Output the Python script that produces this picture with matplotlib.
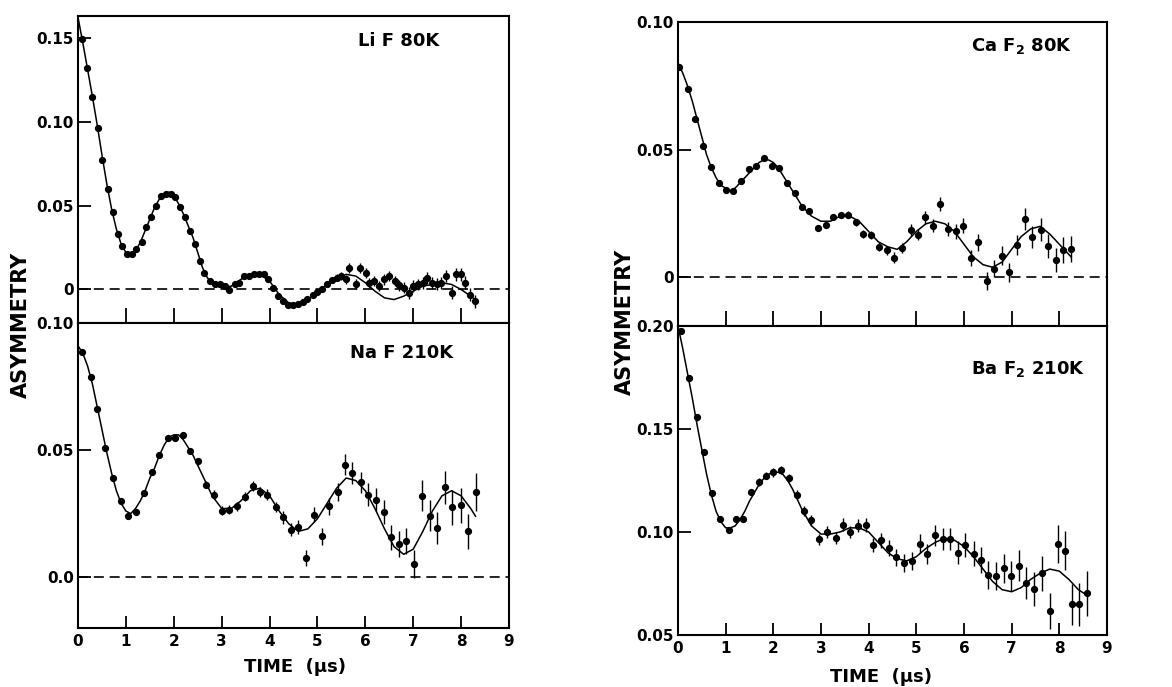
import matplotlib
matplotlib.use("Agg")
import matplotlib.pyplot as plt

# ---- data (time in microseconds, asymmetry) ----
lif_t = [0.08, 0.19, 0.30, 0.42, 0.51, 0.62, 0.72, 0.83, 0.92, 1.03, 1.12, 1.22, 1.33, 1.42,
         1.52, 1.62, 1.73, 1.83, 1.94, 2.03, 2.13, 2.24, 2.34, 2.45, 2.55, 2.64, 2.75, 2.85,
         2.96, 3.06, 3.16, 3.27, 3.36, 3.46, 3.57, 3.67, 3.78, 3.88, 3.97, 4.08, 4.18, 4.29,
         4.39, 4.49, 4.59, 4.70, 4.79, 4.90, 5.00, 5.09, 5.20, 5.30, 5.40, 5.50, 5.59, 5.66,
         5.80, 5.89, 6.01, 6.08, 6.19, 6.29, 6.39, 6.49, 6.61, 6.71, 6.80, 6.91, 7.00, 7.10,
         7.20, 7.29, 7.39, 7.50, 7.59, 7.69, 7.80, 7.90, 7.99, 8.09, 8.18, 8.29]
lif_a = [0.149, 0.132, 0.115, 0.096, 0.077, 0.060, 0.046, 0.033, 0.026, 0.021, 0.021, 0.024,
         0.028, 0.037, 0.043, 0.050, 0.056, 0.057, 0.057, 0.055, 0.049, 0.043, 0.035, 0.027,
         0.017, 0.010, 0.005, 0.003, 0.003, 0.002, -0.0004, 0.003, 0.004, 0.008, 0.008, 0.009,
         0.0095, 0.009, 0.006, 0.001, -0.004, -0.007, -0.009, -0.0095, -0.0085, -0.0075,
         -0.0055, -0.0035, -0.0016, 0.0004, 0.003, 0.0055, 0.007, 0.008, 0.006, 0.013, 0.003,
         0.013, 0.010, 0.004, 0.005, 0.002, 0.006, 0.008, 0.005, 0.0024, 0.001, -0.002, 0.002,
         0.003, 0.004, 0.007, 0.004, 0.003, 0.004, 0.008, -0.002, 0.009, 0.009, 0.004, -0.003,
         -0.007]
lif_e = [0.0008, 0.0008, 0.0008, 0.0008, 0.0008, 0.0008, 0.0008, 0.0008, 0.0008, 0.0008,
         0.0008, 0.0008, 0.0008, 0.0008, 0.0008, 0.0008, 0.0008, 0.0008, 0.0008, 0.0008,
         0.0008, 0.0008, 0.0008, 0.0008, 0.0008, 0.0008, 0.0008, 0.0008, 0.0008, 0.0008,
         0.001, 0.001, 0.001, 0.001, 0.001, 0.001, 0.001, 0.001, 0.001, 0.001,
         0.0012, 0.0012, 0.0012, 0.0012, 0.0012, 0.0014, 0.0014, 0.0014, 0.0015, 0.0015,
         0.0016, 0.0018, 0.002, 0.0022, 0.0025, 0.003, 0.003, 0.003, 0.003, 0.003,
         0.003, 0.003, 0.0032, 0.0032, 0.0032, 0.0033, 0.0033, 0.0034, 0.0034, 0.0035,
         0.0035, 0.0035, 0.0036, 0.0036, 0.0037, 0.0037, 0.0038, 0.0038, 0.004, 0.004,
         0.004, 0.004]
lif_fit_t = [0.0, 0.1, 0.2, 0.3, 0.4, 0.5, 0.6, 0.7, 0.8, 0.9, 1.0, 1.1, 1.2, 1.3, 1.4, 1.5,
             1.6, 1.7, 1.8, 1.9, 2.0, 2.1, 2.2, 2.3, 2.4, 2.5, 2.6, 2.7, 2.8, 2.9, 3.0,
             3.2, 3.4, 3.6, 3.8, 4.0, 4.2, 4.4, 4.6, 4.8, 5.0, 5.2, 5.4, 5.6, 5.8, 6.0, 6.2,
             6.4, 6.6, 6.8, 7.0, 7.2, 7.4, 7.6, 7.8, 8.0, 8.2, 8.3]
lif_fit = [0.162, 0.147, 0.131, 0.115, 0.098, 0.080, 0.063, 0.048, 0.036, 0.027, 0.022, 0.021,
           0.023, 0.028, 0.035, 0.042, 0.049, 0.054, 0.057, 0.058, 0.056, 0.051, 0.045, 0.038,
           0.031, 0.022, 0.013, 0.007, 0.004, 0.002, 0.001,
           0.002, 0.006, 0.009, 0.009, 0.005, -0.003, -0.008,
           -0.009, -0.006, -0.002, 0.003, 0.007, 0.009, 0.008, 0.004, -0.001, -0.005, -0.006,
           -0.004, -0.001, 0.002, 0.003, 0.004, 0.003, 0.000, -0.004, -0.006]

naf_t = [0.08, 0.26, 0.40, 0.57, 0.73, 0.90, 1.05, 1.20, 1.38, 1.54, 1.70, 1.87, 2.03, 2.19,
         2.34, 2.50, 2.67, 2.83, 3.01, 3.16, 3.31, 3.48, 3.65, 3.81, 3.95, 4.13, 4.29, 4.45,
         4.60, 4.77, 4.93, 5.09, 5.24, 5.42, 5.57, 5.73, 5.90, 6.06, 6.22, 6.38, 6.54, 6.70,
         6.85, 7.01, 7.19, 7.34, 7.50, 7.66, 7.82, 7.99, 8.15, 8.31]
naf_a = [0.0885, 0.0786, 0.066, 0.051, 0.039, 0.030, 0.024, 0.0256, 0.033, 0.0415, 0.048,
         0.0547, 0.0547, 0.056, 0.0498, 0.0455, 0.0364, 0.0325, 0.0262, 0.0265, 0.0278, 0.0317,
         0.036, 0.0334, 0.0325, 0.0275, 0.0236, 0.0187, 0.0197, 0.0075, 0.0246, 0.016, 0.0278,
         0.0334, 0.0443, 0.041, 0.0373, 0.0324, 0.0304, 0.0256, 0.0157, 0.0131, 0.0142, 0.0052,
         0.0321, 0.0242, 0.0194, 0.0354, 0.0275, 0.0282, 0.018, 0.0334]
naf_e = [0.001, 0.001, 0.001, 0.001, 0.001, 0.001, 0.001, 0.001, 0.001, 0.001,
         0.0012, 0.0012, 0.0012, 0.0012, 0.0012, 0.0014, 0.0015, 0.0016, 0.0017, 0.0018,
         0.0018, 0.0018, 0.002, 0.002, 0.002, 0.002, 0.0025, 0.0025, 0.0028, 0.003,
         0.003, 0.0032, 0.0035, 0.0035, 0.004, 0.0042, 0.0042, 0.0045, 0.0045, 0.0048,
         0.005, 0.005, 0.0052, 0.0055, 0.006, 0.006, 0.0062, 0.0065, 0.0068, 0.007,
         0.007, 0.0075]
naf_fit_t = [0.0, 0.1, 0.2, 0.3, 0.4, 0.5, 0.6, 0.7, 0.8, 0.9, 1.0, 1.1, 1.2, 1.3, 1.4, 1.5,
             1.6, 1.7, 1.8, 1.9, 2.0, 2.1, 2.2, 2.3, 2.4, 2.6, 2.8, 3.0,
             3.2, 3.4, 3.6, 3.8, 4.0, 4.2, 4.4, 4.6, 4.8, 5.0, 5.2, 5.4, 5.6, 5.8, 6.0, 6.2,
             6.4, 6.6, 6.8, 7.0, 7.2, 7.4, 7.6, 7.8, 8.0, 8.2, 8.3]
naf_fit = [0.091, 0.088, 0.083, 0.076, 0.067, 0.058, 0.049, 0.041, 0.034, 0.029, 0.026, 0.025,
           0.027, 0.030, 0.034, 0.039, 0.043, 0.048, 0.052, 0.055, 0.056, 0.056, 0.054, 0.051,
           0.048, 0.040, 0.032, 0.027, 0.027, 0.030, 0.034, 0.035, 0.032, 0.026, 0.021, 0.018,
           0.019, 0.023, 0.029, 0.035, 0.039, 0.038, 0.034, 0.027, 0.019, 0.012, 0.009, 0.011,
           0.018, 0.026, 0.032, 0.034, 0.032, 0.027, 0.024]

caf_t = [0.03, 0.20, 0.36, 0.53, 0.69, 0.85, 1.01, 1.16, 1.32, 1.49, 1.63, 1.80, 1.97, 2.12,
         2.28, 2.45, 2.60, 2.75, 2.93, 3.10, 3.26, 3.41, 3.57, 3.73, 3.89, 4.05, 4.22, 4.38,
         4.53, 4.71, 4.88, 5.03, 5.18, 5.34, 5.50, 5.67, 5.83, 5.99, 6.15, 6.30, 6.48, 6.64,
         6.80, 6.95, 7.12, 7.28, 7.43, 7.61, 7.77, 7.93, 8.08, 8.24]
caf_a = [0.0824, 0.0739, 0.0621, 0.0516, 0.0434, 0.0369, 0.0342, 0.034, 0.0376, 0.0425,
         0.0435, 0.0468, 0.0435, 0.0429, 0.0369, 0.0329, 0.0275, 0.0259, 0.0193, 0.0207,
         0.0235, 0.0246, 0.0246, 0.0216, 0.017, 0.0167, 0.012, 0.0107, 0.0078, 0.0115,
         0.0186, 0.0167, 0.0235, 0.0203, 0.0288, 0.019, 0.018, 0.0203, 0.0076, 0.0137,
         -0.0013, 0.0035, 0.0085, 0.002, 0.0128, 0.0229, 0.0157, 0.0186, 0.0124, 0.0068,
         0.0107, 0.0111]
caf_e = [0.0008, 0.0008, 0.0008, 0.0008, 0.0008, 0.0008, 0.0008, 0.0008, 0.0008, 0.0008,
         0.001, 0.001, 0.001, 0.001, 0.001, 0.001, 0.001, 0.001, 0.001, 0.001,
         0.0012, 0.0012, 0.0014, 0.0014, 0.0015, 0.0016, 0.0017, 0.0018, 0.002, 0.002,
         0.0022, 0.0022, 0.0024, 0.0025, 0.0027, 0.0028, 0.003, 0.003, 0.0032, 0.0033,
         0.0035, 0.0035, 0.0037, 0.0038, 0.004, 0.0042, 0.0043, 0.0045, 0.0047, 0.0048,
         0.005, 0.005]
caf_fit_t = [0.0, 0.1, 0.2, 0.3, 0.4, 0.5, 0.6, 0.7, 0.8, 0.9, 1.0, 1.1, 1.2, 1.3, 1.4, 1.5,
             1.6, 1.7, 1.8, 1.9, 2.0, 2.1, 2.2, 2.4, 2.6, 2.8, 3.0,
             3.2, 3.4, 3.6, 3.8, 4.0, 4.2, 4.4, 4.6, 4.8, 5.0, 5.2, 5.4, 5.6, 5.8, 6.0, 6.2,
             6.4, 6.6, 6.8, 7.0, 7.2, 7.4, 7.6, 7.8, 8.0, 8.2, 8.25]
caf_fit = [0.084, 0.080, 0.075, 0.069, 0.062, 0.055, 0.048, 0.043, 0.039, 0.036, 0.035, 0.034,
           0.035, 0.037, 0.039, 0.041, 0.043, 0.045, 0.046, 0.046, 0.045, 0.043, 0.040,
           0.034, 0.028, 0.024, 0.022, 0.022, 0.024, 0.024, 0.022, 0.018, 0.014, 0.012, 0.011,
           0.014, 0.018, 0.021, 0.022, 0.021, 0.018, 0.013, 0.008, 0.005, 0.004, 0.006, 0.011,
           0.016, 0.019, 0.020, 0.017, 0.013, 0.009, 0.008]

baf_t = [0.06, 0.23, 0.39, 0.55, 0.72, 0.88, 1.06, 1.21, 1.37, 1.53, 1.69, 1.84, 2.00, 2.16,
         2.33, 2.49, 2.64, 2.80, 2.96, 3.12, 3.31, 3.47, 3.61, 3.77, 3.94, 4.10, 4.26, 4.43,
         4.57, 4.74, 4.90, 5.08, 5.23, 5.39, 5.55, 5.71, 5.87, 6.02, 6.20, 6.35, 6.51, 6.67,
         6.85, 6.99, 7.15, 7.30, 7.47, 7.63, 7.80, 7.97, 8.12, 8.26, 8.42, 8.59]
baf_a = [0.1977, 0.1748, 0.1556, 0.1387, 0.1188, 0.1062, 0.1008, 0.1062, 0.1062, 0.1193,
         0.1242, 0.1273, 0.1289, 0.1302, 0.1261, 0.118, 0.110, 0.1057, 0.0964, 0.100,
         0.0971, 0.1036, 0.100, 0.103, 0.1036, 0.0938, 0.0959, 0.0922, 0.0877, 0.085,
         0.0858, 0.0943, 0.0894, 0.0984, 0.0967, 0.0967, 0.0899, 0.0935, 0.0894, 0.0866,
         0.0791, 0.0788, 0.0824, 0.0788, 0.0837, 0.0752, 0.0725, 0.080, 0.0616, 0.0943,
         0.091, 0.0649, 0.0649, 0.0703]
baf_e = [0.0015, 0.0015, 0.0015, 0.0015, 0.0015, 0.0015, 0.0015, 0.0015, 0.0015, 0.0015,
         0.0018, 0.0018, 0.002, 0.002, 0.002, 0.0022, 0.0024, 0.0025, 0.0026, 0.0027,
         0.0028, 0.003, 0.003, 0.0032, 0.0034, 0.0035, 0.0037, 0.0038, 0.004, 0.0042,
         0.0044, 0.0045, 0.0047, 0.005, 0.0052, 0.0054, 0.0056, 0.0058, 0.006, 0.0063,
         0.0066, 0.0068, 0.007, 0.0073, 0.0076, 0.0079, 0.0082, 0.0085, 0.0088, 0.0092,
         0.0095, 0.010, 0.0105, 0.011]
baf_fit_t = [0.0, 0.1, 0.2, 0.3, 0.4, 0.5, 0.6, 0.7, 0.8, 0.9, 1.0, 1.1, 1.2, 1.3, 1.4, 1.5,
             1.6, 1.7, 1.8, 1.9, 2.0, 2.1, 2.2, 2.3, 2.4, 2.6, 2.8, 3.0,
             3.2, 3.4, 3.6, 3.8, 4.0, 4.2, 4.4, 4.6, 4.8, 5.0, 5.2, 5.4, 5.6, 5.8, 6.0, 6.2,
             6.4, 6.6, 6.8, 7.0, 7.2, 7.4, 7.6, 7.8, 8.0, 8.2, 8.4, 8.6]
baf_fit = [0.200, 0.189, 0.177, 0.165, 0.152, 0.140, 0.128, 0.118, 0.110, 0.105, 0.102, 0.102,
           0.103, 0.106, 0.110, 0.115, 0.119, 0.123, 0.126, 0.128, 0.129, 0.129, 0.128, 0.125,
           0.121, 0.111, 0.103, 0.099, 0.099, 0.100, 0.102, 0.102, 0.100, 0.095, 0.090, 0.087,
           0.086, 0.088, 0.092, 0.095, 0.097, 0.096, 0.093, 0.088, 0.082, 0.076, 0.072, 0.071,
           0.073, 0.077, 0.080, 0.082, 0.081, 0.077, 0.072, 0.069]

panel_labels = ["Li F 80K", "Na F 210K", r"Ca F$_\mathbf{2}$ 80K", r"Ba F$_\mathbf{2}$ 210K"]
x_ticks = [0, 1, 2, 3, 4, 5, 6, 7, 8, 9]

plt.rcParams["font.family"] = "DejaVu Sans"
plt.rcParams["font.weight"] = "bold"
plt.rcParams["mathtext.default"] = "bf"

fig = plt.figure(figsize=(11.72, 6.87), dpi=100)


def draw_panel(rect, t, a, err, fit_t, fit, ylim, yticks, yticklabels, label, label_xy,
               bottom):
    ax = fig.add_axes(rect)
    ax.axhline(0, color="black", lw=1.2, dashes=(6, 3.5))
    ax.plot(fit_t, fit, color="black", lw=1.1)
    ax.errorbar(t, a, yerr=err, fmt="o", color="black", ms=4.2, elinewidth=1.0,
                capsize=0)
    ax.set_xlim(0, 9)
    ax.set_ylim(*ylim)
    ax.set_yticks(yticks)
    ax.set_yticklabels(yticklabels)
    ax.tick_params(axis="y", direction="in", length=9, width=1.3, pad=3, labelsize=11)
    if bottom:
        ax.set_xticks(x_ticks)
        ax.tick_params(axis="x", direction="in", length=9, width=1.3, pad=4, labelsize=11)
    else:
        ax.set_xticks(x_ticks[1:-1])
        ax.tick_params(axis="x", direction="in", length=11, width=1.3, labelbottom=False)
    for s in ax.spines.values():
        s.set_linewidth(1.5)
    ax.text(label_xy[0], label_xy[1], label, transform=ax.transAxes, ha="center",
            va="center", fontsize=13, fontweight="bold")
    return ax


draw_panel([0.0666, 0.5298, 0.3677, 0.4469], lif_t, lif_a, lif_e, lif_fit_t, lif_fit,
           (-0.02, 0.163), [0, 0.05, 0.10, 0.15], ["0", "0.05", "0.10", "0.15"],
           panel_labels[0], (0.745, 0.92), False)
draw_panel([0.0666, 0.0859, 0.3677, 0.4440], naf_t, naf_a, naf_e, naf_fit_t, naf_fit,
           (-0.02, 0.10), [0.0, 0.05, 0.10], ["0.0", "0.05", "0.10"],
           panel_labels[1], (0.75, 0.90), True)
draw_panel([0.5785, 0.5255, 0.3660, 0.4425], caf_t, caf_a, caf_e, caf_fit_t, caf_fit,
           (-0.019, 0.10), [0, 0.05, 0.10], ["0", "0.05", "0.10"],
           panel_labels[2], (0.80, 0.92), False)
draw_panel([0.5785, 0.0757, 0.3660, 0.4498], baf_t, baf_a, baf_e, baf_fit_t, baf_fit,
           (0.05, 0.20), [0.05, 0.10, 0.15, 0.20], ["0.05", "0.10", "0.15", "0.20"],
           panel_labels[3], (0.815, 0.86), True)

fig.text(0.018, 0.527, "ASYMMETRY", rotation=90, ha="center", va="center", fontsize=15,
         fontweight="bold")
fig.text(0.533, 0.531, "ASYMMETRY", rotation=90, ha="center", va="center", fontsize=15,
         fontweight="bold")
fig.text(0.2517, 0.029, "TIME  (\u03bcs)", ha="center", va="center", fontsize=13,
         fontweight="bold")
fig.text(0.7517, 0.0146, "TIME  (\u03bcs)", ha="center", va="center", fontsize=13,
         fontweight="bold")

fig.savefig("out.png", dpi=100)
